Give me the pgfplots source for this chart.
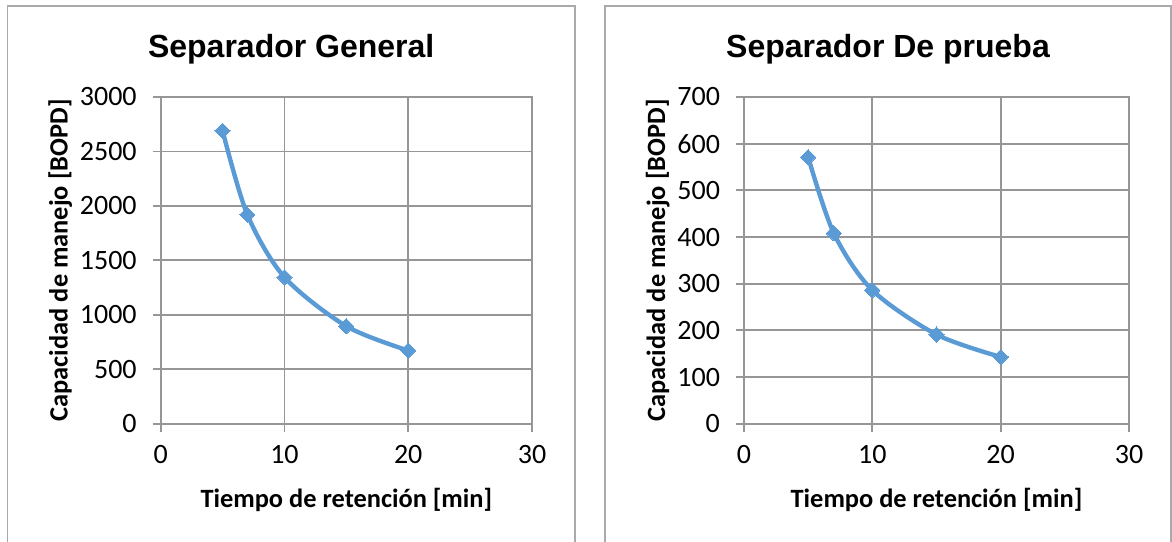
\documentclass[border=0pt]{standalone}
\usepackage{fontspec}
\setmainfont{Carlito}
\newfontfamily\titlefont{Liberation Sans}
\usepackage{pgfplots}
\pgfplotsset{compat=1.18}

\definecolor{serie}{RGB}{91,155,213}
\definecolor{rejilla}{RGB}{150,150,150}
\definecolor{marco}{RGB}{170,170,170}

\pgfplotsset{
  panel/.style={
    scale only axis,
    anchor=south west,
    height=163.35pt,
    xmin=0, xmax=30,
    xtick={0,10,20,30},
    ymin=0,
    grid=major,
    grid style={rejilla, line width=0.9pt},
    axis line style={rejilla, line width=0.9pt},
    tick style={rejilla, line width=0.9pt},
    tick align=outside,
    major tick length=4pt,
    xtick pos=bottom, ytick pos=left,
    /pgf/number format/assume math mode=true,
    /pgf/number format/1000 sep={},
    tick label style={font=\fontsize{14}{16}\selectfont, black},
    xticklabel style={yshift=-3.5pt},
    yticklabel style={xshift=-4.5pt},
    label style={font=\bfseries\fontsize{13.2}{15}\selectfont, black},
    xlabel={Tiempo de retención [min]},
    ylabel={Capacidad de manejo [BOPD]},
    xlabel style={yshift=-5pt},
    ylabel style={yshift=-3pt},
  },
  curva/.style={
    serie, line width=2.2pt, smooth,
    mark=square*, mark size=2.7pt,
    mark options={rotate=45, fill=serie, draw=serie, line width=0pt},
  },
}

\pgfplotstableread{
t    q
5    2690
7    1920
10   1345
15   895
20   672
}\general

\pgfplotstableread{
t    q
5    571
7    408
10   286
15   191
20   143
}\prueba

\begin{document}
\begin{tikzpicture}
  \useasboundingbox (0pt,0pt) rectangle (586pt,270.5pt);
  % chart frames
  \draw[marco, line width=0.8pt] (3.75pt,-10pt) rectangle (287.5pt,267.5pt);
  \draw[marco, line width=0.8pt] (302.5pt,-10pt) rectangle (585.5pt,267.5pt);

  % titles
  \node[font=\titlefont\bfseries\fontsize{16}{19}\selectfont] at (145.6pt,246pt) {Separador General};
  \node[font=\titlefont\bfseries\fontsize{16}{19}\selectfont] at (444pt,246pt) {Separador De prueba};

  \begin{axis}[panel, at={(80.35pt,58.65pt)}, width=185.65pt,
      ymax=3000, ytick distance=500]
    \addplot[curva] table[x=t, y=q] {\general};
  \end{axis}

  \begin{axis}[panel, at={(372pt,58.65pt)}, width=192.5pt,
      ymax=700, ytick distance=100]
    \addplot[curva] table[x=t, y=q] {\prueba};
  \end{axis}
\end{tikzpicture}
\end{document}
